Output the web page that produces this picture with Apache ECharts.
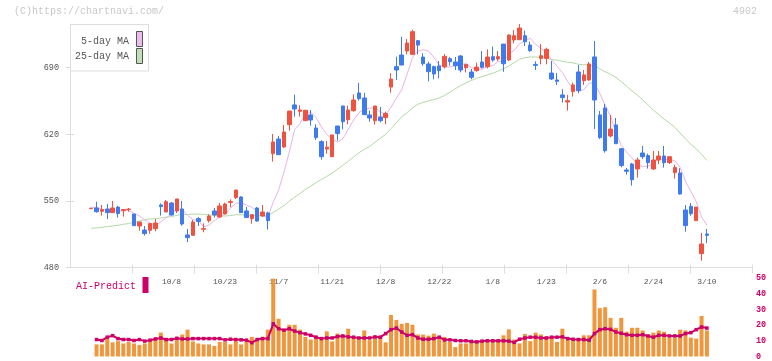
<!DOCTYPE html>
<html><head><meta charset="utf-8">
<script src="https://cdn.jsdelivr.net/npm/echarts@6/dist/echarts.min.js"></script>
<style>html,body{margin:0;padding:0;background:#fff}#c{width:772px;height:361px}</style>
</head><body><div id="c"></div>
<script>
// ---- data (index 0 = 2025/9/16 ... index 115 = 2026/3/10) ----
const xLabelIdx  = [15, 25, 35, 45, 55, 65, 75, 85, 95, 105, 115];
const xLabelText = ['10/8','10/23','11/7','11/21','12/8','12/22','1/8','1/23','2/6','2/24','3/10'];
const yTickVals  = [480, 550, 620, 690];
const volTickVals = [0, 10, 20, 30, 40, 50];

const openP = [
542.0,542.7,539.2,541.6,537.8,543.7,539.9,541.1,536.4,523.8,
519.6,519.3,521.0,545.9,538.5,547.9,539.6,541.6,514.4,514.0,
531.5,520.3,529.4,539.6,533.2,536.4,548.6,553.6,554.3,539.6,
531.5,542.7,534.3,537.5,599.8,615.1,606.8,630.2,650.9,644.2,
634.4,640.4,626.7,612.4,604.6,596.6,628.8,649.8,635.4,644.9,
663.5,658.2,640.4,634.4,638.3,637.6,669.7,691.1,703.3,707.5,
704.0,718.4,701.2,693.9,691.1,691.8,691.1,699.5,696.0,702.3,
690.0,685.5,686.9,696.0,691.1,701.6,699.1,714.8,698.1,719.1,
719.4,723.6,713.8,693.5,699.8,699.8,684.4,677.1,661.4,654.0,
664.9,685.5,676.4,677.1,701.3,640.4,647.7,618.3,629.9,605.0,
582.6,588.9,583.7,600.4,597.7,583.7,593.1,597.3,590.3,579.8,
579.5,540.6,544.4,529.4,494.8,515.4];
const closeP = [
542.4,538.8,541.0,537.8,542.7,536.8,541.0,541.5,524.1,528.0,
515.8,526.3,526.9,544.1,549.3,535.4,552.2,525.9,511.6,528.0,
528.4,521.0,534.3,535.4,544.8,546.9,549.4,561.6,537.8,532.6,
535.7,529.0,538.5,529.4,612.0,598.7,622.5,644.5,646.7,645.6,
645.3,635.1,616.6,596.6,606.4,619.4,620.8,633.3,645.6,656.1,
657.5,640.7,637.2,649.8,634.4,641.8,678.1,687.6,692.8,715.9,
727.8,713.8,694.2,685.8,683.4,686.9,701.9,696.3,692.1,687.6,
693.5,679.9,690.7,690.4,701.2,698.1,701.6,694.2,724.3,723.6,
731.6,717.3,707.9,692.5,702.6,709.3,678.2,675.7,658.6,655.4,
671.9,665.9,682.4,693.9,656.1,616.6,602.9,625.6,610.2,587.2,
581.2,572.4,593.1,596.6,590.3,593.1,597.3,590.3,596.6,585.1,
557.4,524.2,536.7,543.7,504.9,514.0];
const lowP = [
541.6,537.8,534.7,531.1,537.4,532.6,533.6,538.8,524.1,518.9,
513.7,515.8,518.2,534.7,538.5,534.7,537.4,524.1,507.0,513.7,
523.8,517.2,527.3,532.6,532.6,536.1,543.4,552.1,537.5,532.2,
526.2,528.4,533.6,520.0,591.4,598.4,605.7,623.9,638.6,638.6,
634.4,629.1,614.1,593.5,599.8,596.6,613.4,625.3,630.6,643.8,
655.4,640.4,633.3,630.2,632.6,630.6,663.8,677.1,692.8,704.0,
704.0,704.0,692.1,675.7,677.8,678.8,689.3,692.1,687.6,685.1,
685.1,677.8,685.8,689.3,689.3,696.3,697.0,685.8,697.0,715.6,
719.4,712.8,706.8,687.6,693.5,693.5,677.1,671.8,653.3,644.9,
659.6,663.1,671.9,676.4,625.6,615.2,600.8,616.9,610.2,585.4,
577.7,566.2,574.6,594.2,584.0,582.6,588.9,585.1,588.9,573.5,
556.7,517.8,534.6,529.4,487.4,505.6];
const highP = [
543.0,549.3,545.9,546.9,550.1,544.8,541.3,542.7,536.4,528.4,
523.8,526.3,531.1,547.6,551.1,549.0,552.2,550.1,520.7,530.1,
533.2,526.6,536.1,542.7,547.9,548.3,551.8,561.6,555.0,543.8,
535.7,543.8,545.9,538.9,620.4,618.3,629.9,644.5,661.7,650.5,
645.6,645.6,630.6,613.8,613.1,619.4,628.8,649.8,650.2,662.0,
674.0,663.5,644.9,649.8,648.8,643.9,684.1,701.6,722.6,720.1,
729.9,719.1,705.1,696.3,692.1,697.0,704.4,701.2,701.2,703.3,
693.5,688.6,695.3,707.5,709.3,712.1,707.5,714.8,725.0,729.5,
735.8,728.9,717.3,696.7,714.8,711.0,697.1,684.4,667.3,661.4,
674.3,692.9,687.6,696.0,718.1,644.6,651.9,640.4,637.2,605.7,
584.7,590.0,595.6,607.8,599.8,602.6,602.6,607.8,597.3,588.2,
584.4,545.8,547.9,543.7,516.4,520.6];
const ma5 = [
543.4,543.4,541.3,540.6,540.5,539.4,539.9,540.0,537.2,534.3,
530.1,527.1,524.2,528.2,532.5,536.4,541.6,541.4,534.9,530.6,
529.2,523.0,524.7,529.4,532.8,536.5,542.2,547.6,548.1,545.7,
543.4,539.3,534.7,533.0,548.9,561.5,580.2,601.4,624.9,631.6,
640.9,643.4,637.9,627.8,620.0,614.8,612.0,615.3,625.1,635.0,
642.7,646.6,647.4,648.3,643.9,640.8,648.3,658.3,666.9,683.2,
700.4,707.6,708.9,707.5,701.0,692.8,690.4,690.9,692.1,693.0,
694.3,689.9,688.8,688.4,691.1,692.1,696.4,697.1,703.9,708.4,
715.1,718.2,720.9,714.6,710.4,705.9,698.1,691.7,684.9,675.4,
668.0,665.5,666.8,673.9,674.0,663.0,650.4,639.0,622.3,608.5,
601.4,595.3,588.8,586.1,586.7,589.1,594.1,593.5,593.5,592.5,
585.3,570.7,560.0,549.4,533.4,524.7];
const ma25 = [
521.4,521.7,522.3,523.1,523.8,524.5,525.6,526.4,527.5,529.1,
530.5,531.2,531.5,532.2,533.0,533.6,535.0,535.7,536.0,536.3,
536.3,536.0,535.4,535.0,534.1,534.3,534.7,535.6,535.6,535.2,
535.1,534.6,534.5,534.7,538.1,541.4,545.3,550.0,554.1,557.9,
562.3,565.6,569.3,572.7,575.8,579.4,583.4,587.4,591.8,596.2,
600.7,604.3,607.3,611.8,615.9,620.1,626.1,632.1,638.6,642.8,
647.9,651.6,653.6,655.1,656.6,658.3,661.0,664.2,668.0,671.2,
674.2,676.6,678.9,680.6,682.5,684.1,686.5,688.8,691.8,695.3,
698.9,700.5,701.3,701.3,700.8,700.0,698.6,697.9,696.8,695.7,
695.1,693.6,693.1,693.1,691.9,688.8,685.7,683.1,679.9,675.3,
670.7,665.5,661.5,656.3,651.0,645.5,640.7,636.0,632.1,627.4,
621.4,615.2,609.6,605.0,599.0,592.7];
const volume = [null,
7.7,7.7,11.4,9.0,9.8,8.3,9.2,8.3,7.3,8.3,
9.3,11.8,15.2,11.4,8.3,11.4,14.0,17.1,9.6,8.3,
7.7,7.7,6.7,9.3,9.3,7.7,9.8,7.7,9.8,12.5,
10.8,12.5,17.1,49.6,24.0,17.1,20.2,20.2,17.1,12.5,
10.8,13.1,11.4,16.0,9.6,14.6,12.9,17.7,12.9,11.0,
16.6,10.4,13.1,13.1,9.0,26.4,23.3,20.8,21.4,20.2,
14.0,14.0,13.3,14.6,12.9,12.5,9.2,6.0,8.3,8.3,
9.3,10.2,9.3,9.8,9.8,9.8,13.5,17.3,10.8,8.3,
14.4,9.8,15.2,14.0,12.7,11.9,9.3,17.7,10.8,10.4,
11.4,13.5,13.5,42.7,30.8,31.4,24.6,18.3,24.6,15.8,
18.3,18.3,16.6,13.5,15.2,16.6,15.8,12.0,12.0,17.1,
16.6,12.0,11.4,25.8,16.6];
const aiPredict = [null,
10.8,10.2,12.3,13.3,11.4,10.8,10.8,10.2,10.8,9.8,
10.4,11.2,11.8,10.8,10.8,11.6,11.2,11.2,11.4,11.4,
11.4,11.4,11.4,11.4,10.6,11.0,10.8,10.6,10.4,8.8,
10.8,11.4,11.4,20.8,17.7,16.8,17.7,16.2,15.2,14.4,
13.5,12.3,11.4,11.8,11.8,12.7,13.1,12.5,12.3,11.8,
11.8,11.8,12.5,12.3,14.6,17.1,18.1,15.6,13.5,13.9,
11.8,11.0,11.0,11.4,12.3,10.6,10.6,10.2,10.0,10.0,
9.6,9.3,9.8,10.0,10.0,10.0,10.0,9.8,9.0,11.0,
11.8,12.3,12.3,11.8,11.8,12.3,12.3,12.5,11.4,11.0,
10.8,10.8,10.4,14.6,17.1,17.7,17.3,15.6,14.8,13.9,
13.5,13.5,13.9,13.1,12.3,13.5,13.5,13.1,13.1,13.1,
14.6,15.2,17.1,18.8,18.1];

// ---- chart ----
const FONT = 'Liberation Mono';
const RED = '#ef5340', BLUE = '#3f7bed', AXIS = '#dddddd', CRIMSON = '#cc0066';
const xMin = -3.96, xMax = 123.42;
const xTickPos = [];
for (let k = 1; k <= 11; k++) xTickPos.push(xMin + k * (xMax - xMin) / 11);

const candles = openP.map((o, i) => [i, o, closeP[i], lowP[i], highP[i]]);
const pairs = arr => arr.map((v, i) => [i, v]).filter(p => p[1] != null);

const chart = echarts.init(document.getElementById('c'), null, {renderer: 'canvas'});
chart.setOption({
  animation: false,
  backgroundColor: '#ffffff',
  grid: [
    {left: 70, width: 682, top: 24, height: 243.7},
    {left: 70, width: 682, top: 278, height: 80}
  ],
  xAxis: [
    {gridIndex: 0, type: 'value', min: xMin, max: xMax, position: 'bottom',
     axisLine: {show: true, onZero: false, lineStyle: {color: AXIS, width: 1}},
     axisTick: {show: true, customValues: xTickPos, length: 6, lineStyle: {color: AXIS}},
     axisLabel: {show: true, customValues: xLabelIdx, margin: 10, fontSize: 8, color: '#555',
       fontFamily: FONT,
       formatter: v => { const k = xLabelIdx.findIndex(t => Math.abs(t - v) < 0.01); return k >= 0 ? xLabelText[k] : ''; }},
     splitLine: {show: false}},
    {gridIndex: 0, type: 'value', min: xMin, max: xMax, position: 'bottom',
     axisLine: {show: false, onZero: false},
     axisTick: {show: true, inside: true, customValues: xTickPos, length: 3, lineStyle: {color: AXIS}},
     axisLabel: {show: false}, splitLine: {show: false}},
    {gridIndex: 1, type: 'value', min: xMin, max: xMax, show: false, axisLine: {onZero: false}}
  ],
  yAxis: [
    {gridIndex: 0, type: 'value', min: 480, max: 735.9, position: 'left',
     axisLine: {show: true, onZero: false, lineStyle: {color: AXIS, width: 1}},
     axisTick: {show: true, customValues: yTickVals, length: 4, lineStyle: {color: AXIS}},
     axisLabel: {show: true, customValues: yTickVals, margin: 11, fontSize: 8.5, color: '#555', fontFamily: FONT},
     splitLine: {show: false}},
    {gridIndex: 0, type: 'value', min: 480, max: 735.9, position: 'left',
     axisLine: {show: false, onZero: false},
     axisTick: {show: true, inside: true, customValues: yTickVals, length: 4, lineStyle: {color: AXIS}},
     axisLabel: {show: false}, splitLine: {show: false}},
    {gridIndex: 1, type: 'value', min: 0, max: 50, position: 'right',
     axisLine: {show: false, onZero: false}, axisTick: {show: false},
     axisLabel: {show: true, customValues: volTickVals, margin: 4, fontSize: 8.5, color: CRIMSON,
       fontFamily: FONT, fontWeight: 'bold'},
     splitLine: {show: false}}
  ],
  series: [
    {type: 'line', xAxisIndex: 0, yAxisIndex: 0, data: pairs(ma25), showSymbol: false, z: 1,
     lineStyle: {color: '#b4d9a6', width: 1}},
    {type: 'line', xAxisIndex: 0, yAxisIndex: 0, data: pairs(ma5), showSymbol: false, z: 1,
     lineStyle: {color: '#e8b4e8', width: 1}},
    {type: 'candlestick', xAxisIndex: 0, yAxisIndex: 0, data: candles, z: 3,
     encode: {x: 0, y: [1, 2, 3, 4]}, barWidth: 4,
     itemStyle: {color: RED, color0: BLUE, borderColor: RED, borderColor0: BLUE, borderWidth: 1}},
    {type: 'bar', xAxisIndex: 2, yAxisIndex: 2, data: pairs(volume), barWidth: 4,
     itemStyle: {color: '#f0963c'}},
    {type: 'line', xAxisIndex: 2, yAxisIndex: 2, data: pairs(aiPredict), z: 4,
     symbol: 'rect', symbolSize: 3.5, showSymbol: true,
     itemStyle: {color: CRIMSON}, lineStyle: {color: CRIMSON, width: 2}}
  ],
  graphic: [
    {type: 'text', left: 14, top: 6, style: {text: '(C)https://chartnavi.com/', fill: '#c8c8c8', font: '10px "Liberation Mono"'}},
    {type: 'text', right: 15, top: 6, style: {text: '4902', fill: '#c8c8c8', font: '10px "Liberation Mono"'}},
    {type: 'rect', shape: {x: 70.5, y: 24.5, width: 78, height: 46.5}, style: {fill: '#fff', stroke: '#dddddd', lineWidth: 1}, z: 10},
    {type: 'text', x: 129, y: 41, style: {text: '5-day MA', fill: '#555', font: '10px "Liberation Mono"', align: 'right', verticalAlign: 'middle'}, z: 11},
    {type: 'text', x: 129, y: 56.5, style: {text: '25-day MA', fill: '#555', font: '10px "Liberation Mono"', align: 'right', verticalAlign: 'middle'}, z: 11},
    {type: 'rect', shape: {x: 136.5, y: 31.5, width: 6, height: 15}, style: {fill: '#ecbcec', stroke: '#555', lineWidth: 1}, z: 11},
    {type: 'rect', shape: {x: 136.5, y: 48.5, width: 6, height: 15}, style: {fill: '#bfe0b4', stroke: '#555', lineWidth: 1}, z: 11},
    {type: 'text', x: 76, y: 286.5, style: {text: 'AI-Predict', fill: CRIMSON, font: '10px "Liberation Mono"', verticalAlign: 'middle'}, z: 11},
    {type: 'rect', shape: {x: 142.5, y: 277, width: 6, height: 16}, style: {fill: CRIMSON}, z: 11}
  ]
});
</script>
</body></html>
